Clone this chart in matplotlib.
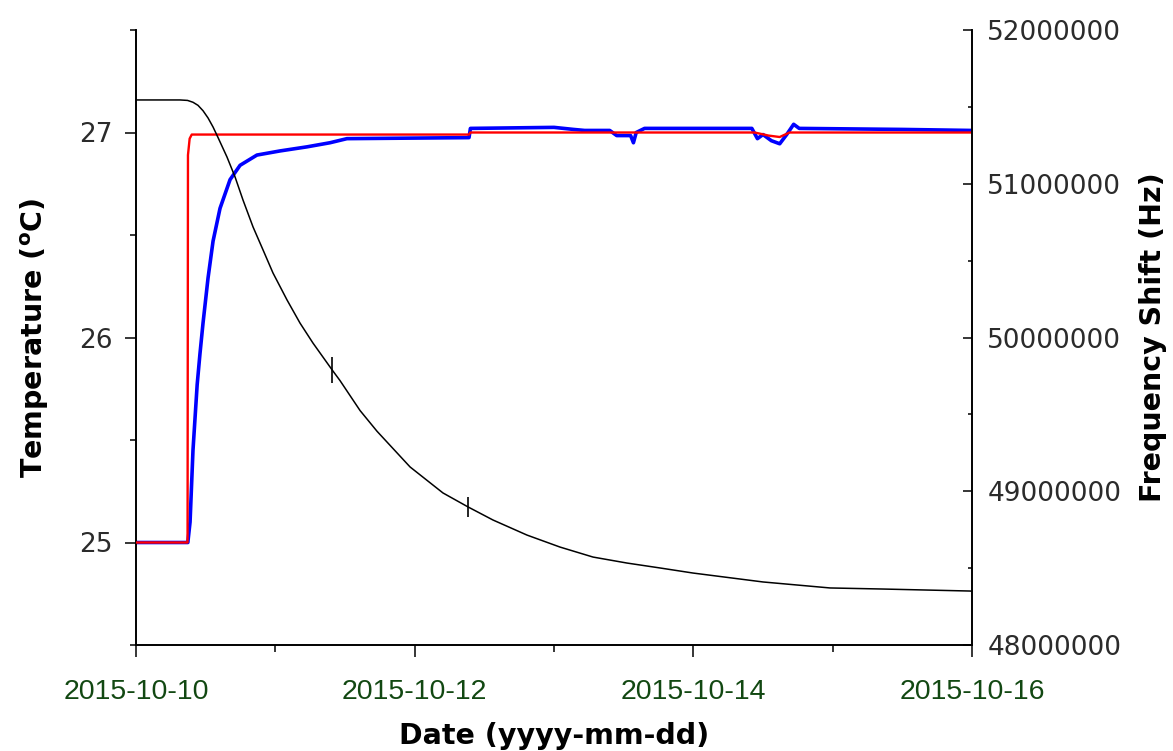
import numpy as np
import matplotlib
matplotlib.use('Agg')
import matplotlib.pyplot as plt
import matplotlib.dates as mdates
from matplotlib.ticker import MultipleLocator, FuncFormatter

# time axis: days since 2015-10-10 00:00
T0 = np.datetime64('2015-10-10T00:00:00')

# measured temperature (blue), left axis
meas_days = [0.0, 0.372, 0.388, 0.409, 0.439, 0.459, 0.481, 0.517, 0.553, 0.603,
             0.675, 0.747, 0.868, 1.033, 1.227, 1.392, 1.514, 2.390, 2.400, 3.000,
             3.140, 3.220, 3.400, 3.450, 3.550, 3.570, 3.590, 3.650, 4.420, 4.460,
             4.500, 4.560, 4.620, 4.670, 4.720, 4.760, 5.500, 6.000]
meas_temp = [25.0, 25.0, 25.10, 25.45, 25.77, 25.92, 26.07, 26.29, 26.47, 26.63,
             26.77, 26.84, 26.89, 26.91, 26.93, 26.95, 26.97, 26.975, 27.02, 27.025,
             27.015, 27.01, 27.01, 26.985, 26.985, 26.95, 27.0, 27.02, 27.02, 26.97,
             26.99, 26.96, 26.945, 26.99, 27.04, 27.02, 27.015, 27.01]

# set-point temperature (red), left axis
set_days = [0.0, 0.370, 0.373, 0.385, 0.400, 2.390, 2.400, 4.440, 4.540, 4.620, 4.690, 6.0]
set_temp = [25.0, 25.0, 26.89, 26.97, 26.99, 26.99, 27.0, 27.0, 26.985, 26.978, 27.0, 27.0]

# frequency shift (black), right axis
freq_days = [0.0, 0.316, 0.370, 0.409, 0.445, 0.481, 0.517, 0.553, 0.589, 0.653,
             0.711, 0.768, 0.840, 0.912, 0.983, 1.084, 1.177, 1.270, 1.407, 1.464,
             1.608, 1.730, 1.967, 2.203, 2.383, 2.562, 2.806, 3.043, 3.280, 3.524,
             3.761, 3.998, 4.500, 4.981, 5.361, 5.986, 6.0]
freq_hz = [51545000, 51545000, 51542000, 51530000, 51510000, 51475000, 51428000, 51369000,
           51300000, 51174000, 51044000, 50894000, 50719000, 50569000, 50420000, 50244000,
           50094000, 49964000, 49790000, 49720000, 49525000, 49390000, 49158000, 48989000,
           48898000, 48813000, 48715000, 48637000, 48572000, 48533000, 48501000, 48468000,
           48410000, 48371000, 48364000, 48351000, 48350000]

# two points with vertical error bars on the frequency curve
mark_days = [1.407, 2.383]
mark_hz = [49790000, 48898000]
mark_err = [85000, 65000]

tick_dates = ['2015-10-10', '2015-10-12', '2015-10-14', '2015-10-16']


def to_time(days):
    return T0 + (np.asarray(days) * 86400).astype('timedelta64[s]')


fig = plt.figure(figsize=(11.73, 7.51), dpi=100)
ax = fig.add_axes([136 / 1173, 106 / 751, 836 / 1173, 615 / 751])
ax2 = ax.twinx()

ax.plot(to_time(meas_days), meas_temp, color='#0000ff', lw=2.6, zorder=2)
ax.plot(to_time(set_days), set_temp, color='#ff0000', lw=1.7, zorder=3)
ax2.plot(to_time(freq_days), freq_hz, color='black', lw=1.1)
ax2.errorbar(to_time(mark_days), mark_hz, yerr=mark_err, fmt='none',
             ecolor='black', elinewidth=1.2, capsize=0)

# x axis: dates
ax.set_xlim(np.datetime64(tick_dates[0]), np.datetime64(tick_dates[-1]))
ax.set_xticks([np.datetime64(d) for d in tick_dates])
ax.set_xticklabels(tick_dates)
ax.xaxis.set_minor_locator(mdates.DayLocator())
for lbl in ax.get_xticklabels():
    lbl.set_family('Liberation Sans')

# left axis: temperature
ax.set_ylim(24.5, 27.5)
ax.yaxis.set_major_locator(MultipleLocator(1))
ax.yaxis.set_minor_locator(MultipleLocator(0.5))

# right axis: frequency
ax2.set_ylim(48e6, 52e6)
ax2.yaxis.set_major_locator(MultipleLocator(1e6))
ax2.yaxis.set_minor_locator(MultipleLocator(5e5))
ax2.yaxis.set_major_formatter(FuncFormatter(lambda v, p: f'{v:.0f}'))

for a in (ax, ax2):
    a.spines['top'].set_visible(False)
    for s in a.spines.values():
        s.set_linewidth(1.4)
ax.spines['right'].set_visible(False)
ax2.spines['left'].set_visible(False)
ax2.spines['bottom'].set_visible(False)

ax.tick_params(axis='y', which='major', direction='out', length=8, width=1.1,
               labelsize=19, labelcolor='#2b2b2b', pad=9)
ax.tick_params(axis='y', which='minor', direction='out', length=4.5, width=1.1)
ax.tick_params(axis='x', which='major', direction='out', length=8.5, width=1.1,
               labelsize=20.5, labelcolor='#124812', pad=16)
ax.tick_params(axis='x', which='minor', direction='out', length=5, width=1.1)
ax2.tick_params(axis='y', which='major', direction='in', length=6.5, width=1.1,
                labelsize=19, labelcolor='#2b2b2b', pad=11)
ax2.tick_params(axis='y', which='minor', direction='in', length=3, width=1.1)

ax.set_xlabel('Date (yyyy-mm-dd)', fontsize=20.5, fontweight='bold', labelpad=12)
ax.set_ylabel(r'Temperature ($^{\mathbf{o}}$C)', fontsize=20.5, fontweight='bold', labelpad=20)
ax2.set_ylabel('Frequency Shift (Hz)', fontsize=20.5, fontweight='bold',
               rotation=90, labelpad=13)

fig.savefig('out.png', dpi=100)
